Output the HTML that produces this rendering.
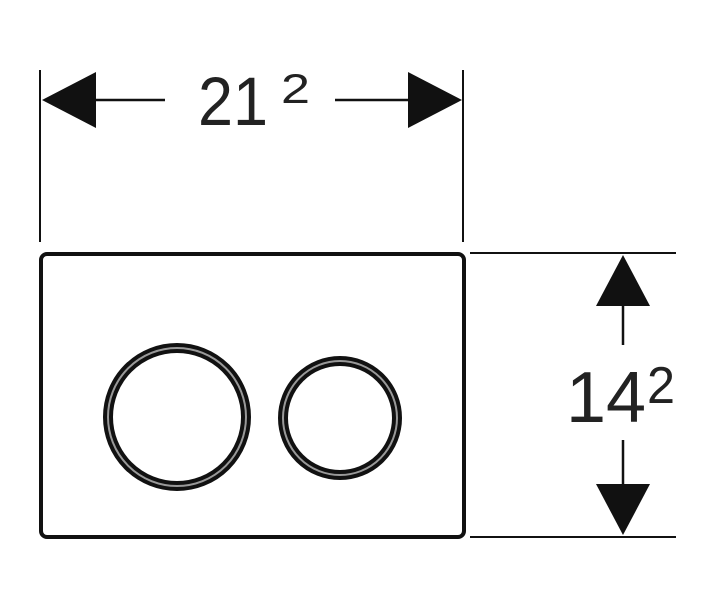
<!DOCTYPE html>
<html><head><style>html,body{margin:0;padding:0;background:#fff}</style></head>
<body>
<svg width="715" height="584" viewBox="0 0 715 584" xmlns="http://www.w3.org/2000/svg">
<g stroke="#111" fill="none">
<line x1="40" y1="70" x2="40" y2="242" stroke-width="2"/>
<line x1="463" y1="70" x2="463" y2="242" stroke-width="2"/>
<line x1="470" y1="253" x2="676" y2="253" stroke-width="2"/>
<line x1="470" y1="537" x2="676" y2="537" stroke-width="2"/>
<line x1="95" y1="100" x2="165" y2="100" stroke-width="2.5"/>
<line x1="335" y1="100" x2="410" y2="100" stroke-width="2.5"/>
<line x1="623" y1="305" x2="623" y2="345" stroke-width="2.5"/>
<line x1="623" y1="440" x2="623" y2="484" stroke-width="2.5"/>
<rect x="41" y="254" width="423" height="283" rx="6" stroke-width="4"/>
<circle cx="177" cy="417" r="69" stroke-width="10"/>
<circle cx="177" cy="417" r="69" stroke-width="2" stroke="#999"/>
<circle cx="340" cy="418" r="57" stroke-width="10"/>
<circle cx="340" cy="418" r="57" stroke-width="2" stroke="#999"/>
</g>
<g fill="#111">
<polygon points="42,100 96,72 96,128"/>
<polygon points="462,100 408,72 408,128"/>
<polygon points="623,255 596,306 650,306"/>
<polygon points="623,535 596,484 650,484"/>
</g>
<g font-family="Liberation Sans, sans-serif" fill="#222">
<text x="198" y="125" font-size="69" textLength="70" lengthAdjust="spacingAndGlyphs">21</text>
<text x="281" y="103" font-size="42" textLength="29" lengthAdjust="spacingAndGlyphs">2</text>
<text x="566" y="422" font-size="72" textLength="80" lengthAdjust="spacingAndGlyphs">14</text>
<text x="647" y="403" font-size="52" textLength="28" lengthAdjust="spacingAndGlyphs">2</text>
</g>
</svg>
</body></html>
